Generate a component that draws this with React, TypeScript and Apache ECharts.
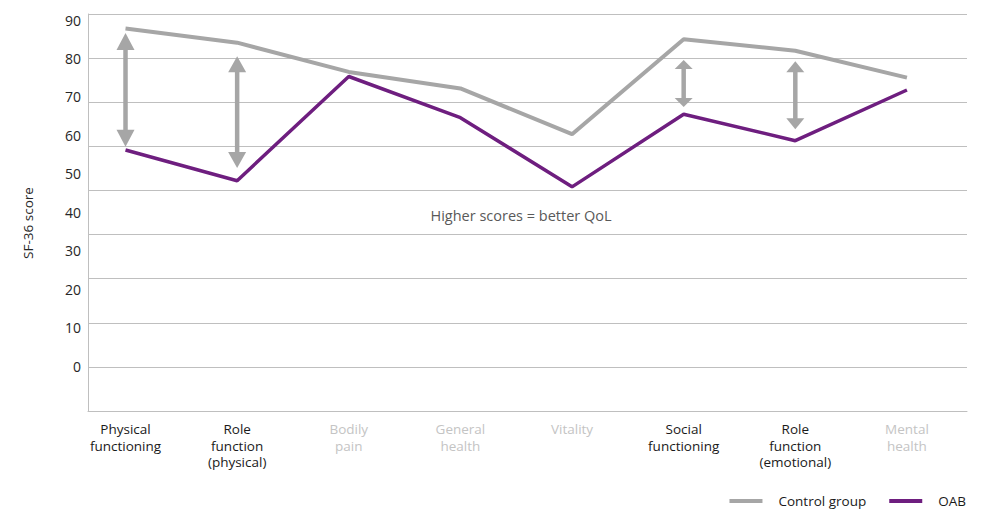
import React, { useEffect, useRef } from "react";
import * as echarts from "echarts";

const categories = [
  "Physical\nfunctioning",
  "Role\nfunction\n(physical)",
  "Bodily\npain",
  "General\nhealth",
  "Vitality",
  "Social\nfunctioning",
  "Role\nfunction\n(emotional)",
  "Mental\nhealth",
];
const controlScores = [87.8, 84.1, 76.5, 72.2, 60.3, 85.0, 82.0, 75.0];
const oabScores = [56.2, 48.2, 75.3, 64.6, 46.6, 65.5, 58.6, 71.8];
const yTickLabels = [0, 10, 20, 30, 40, 50, 60, 70, 80, 90];
const arrowCategoryIndex = [0, 1, 5, 6];
const arrowTopScores = [86.6, 80.6, 79.6, 79.3];
const arrowBottomScores = [57.0, 51.5, 67.4, 61.6];

const FONT = '"Open Sans", "Noto Sans", sans-serif';
const MUTED = new Set([2, 3, 4, 7]);
const ARROW_HEAD_LEN = [17, 16, 9, 11];
const ARROW_HEAD_HALF_W = 9;
const GREY = "#a6a6a6";
const PURPLE = "#6e1e7f";

export default function App() {
  const ref = useRef<HTMLDivElement>(null);
  useEffect(() => {
    if (!ref.current) return;
    const chart = echarts.init(ref.current, undefined, { renderer: "svg" });
    const option: any = {
      animation: false,
      grid: { left: 88, right: 27, top: 14, bottom: 105, containLabel: false, outerBoundsMode: "none" },
      legend: {
        data: ["Control group", "OAB"],
        right: 23,
        top: 489,
        icon: "rect",
        itemWidth: 33,
        itemHeight: 4,
        itemGap: 23,
        textStyle: { fontFamily: FONT, fontSize: 13.5, color: "#1a1a1a", padding: [0, 0, 0, 11] },
      },
      xAxis: {
        type: "value",
        min: -0.336,
        max: 7.538,
        axisLine: { show: true, onZero: false, lineStyle: { color: "#bfbfbf", width: 1 } },
        axisTick: { show: false },
        splitLine: { show: false },
        axisLabel: {
          customValues: categories.map((_, i) => i),
          margin: 10,
          formatter: (v: number) => {
            const i = Math.round(v);
            const name = categories[i];
            if (name === undefined) return "";
            const key = MUTED.has(i) ? "m" : "d";
            return name
              .split("\n")
              .map((s) => `{${key}|${s}}`)
              .join("\n");
          },
          rich: {
            d: { color: "#1a1a1a", fontSize: 13.5, lineHeight: 16.5, fontFamily: FONT },
            m: { color: "#c4c4c4", fontSize: 13.5, lineHeight: 16.5, fontFamily: FONT },
          },
        },
      },
      yAxis: [
        {
          type: "value",
          position: "left",
          min: 0,
          max: 9,
          interval: 1,
          axisLabel: { show: false },
          axisTick: { show: false },
          axisLine: { show: true, onZero: false, lineStyle: { color: "#bfbfbf", width: 1 } },
          splitLine: { show: true, lineStyle: { color: "#bfbfbf", width: 1 } },
        },
        {
          type: "value",
          position: "left",
          min: -11.705,
          max: 91.561,
          axisLine: { show: false, onZero: false },
          axisTick: { show: false },
          splitLine: { show: false },
          axisLabel: {
            customValues: yTickLabels,
            margin: 7,
            fontSize: 14,
            fontFamily: FONT,
            color: "#262626",
          },
        },
      ],
      graphic: [
        {
          type: "text",
          x: 28,
          y: 223,
          rotation: Math.PI / 2,
          style: {
            text: "SF-36 score",
            font: `13.5px ${FONT}`,
            fill: "#262626",
            align: "center",
            verticalAlign: "middle",
          },
        },
        {
          type: "text",
          x: 521,
          y: 215,
          style: {
            text: "Higher scores = better QoL",
            font: `14.5px ${FONT}`,
            fill: "#595959",
            align: "center",
            verticalAlign: "middle",
          },
        },
      ],
      series: [
        {
          type: "custom",
          name: "arrows",
          xAxisIndex: 0,
          yAxisIndex: 1,
          z: 2,
          silent: true,
          encode: { x: 0, y: [1, 2] },
          data: arrowCategoryIndex.map((x, i) => [x, arrowTopScores[i], arrowBottomScores[i]]),
          renderItem: (params: any, api: any) => {
            const top = api.coord([api.value(0), api.value(1)]);
            const bot = api.coord([api.value(0), api.value(2)]);
            const h = ARROW_HEAD_LEN[params.dataIndex];
            const w = ARROW_HEAD_HALF_W;
            const x = top[0];
            return {
              type: "group",
              children: [
                {
                  type: "line",
                  shape: { x1: x, y1: top[1] + h - 1, x2: x, y2: bot[1] - h + 1 },
                  style: { stroke: GREY, lineWidth: 4.5 },
                },
                {
                  type: "polygon",
                  shape: { points: [[x, top[1]], [x - w, top[1] + h], [x + w, top[1] + h]] },
                  style: { fill: GREY },
                },
                {
                  type: "polygon",
                  shape: { points: [[x, bot[1]], [x - w, bot[1] - h], [x + w, bot[1] - h]] },
                  style: { fill: GREY },
                },
              ],
            };
          },
        },
        {
          type: "line",
          name: "Control group",
          xAxisIndex: 0,
          yAxisIndex: 1,
          z: 3,
          symbol: "none",
          data: controlScores.map((v, i) => [i, v]),
          lineStyle: { color: GREY, width: 4 },
          itemStyle: { color: GREY },
        },
        {
          type: "line",
          name: "OAB",
          xAxisIndex: 0,
          yAxisIndex: 1,
          z: 4,
          symbol: "none",
          data: oabScores.map((v, i) => [i, v]),
          lineStyle: { color: PURPLE, width: 3.5 },
          itemStyle: { color: PURPLE },
        },
      ],
    };
    chart.setOption(option);
    return () => chart.dispose();
  }, []);
  return (
    <div
      ref={ref}
      style={{ position: "absolute", left: 0, top: 0, width: 994, height: 516, background: "#fff" }}
    />
  );
}
